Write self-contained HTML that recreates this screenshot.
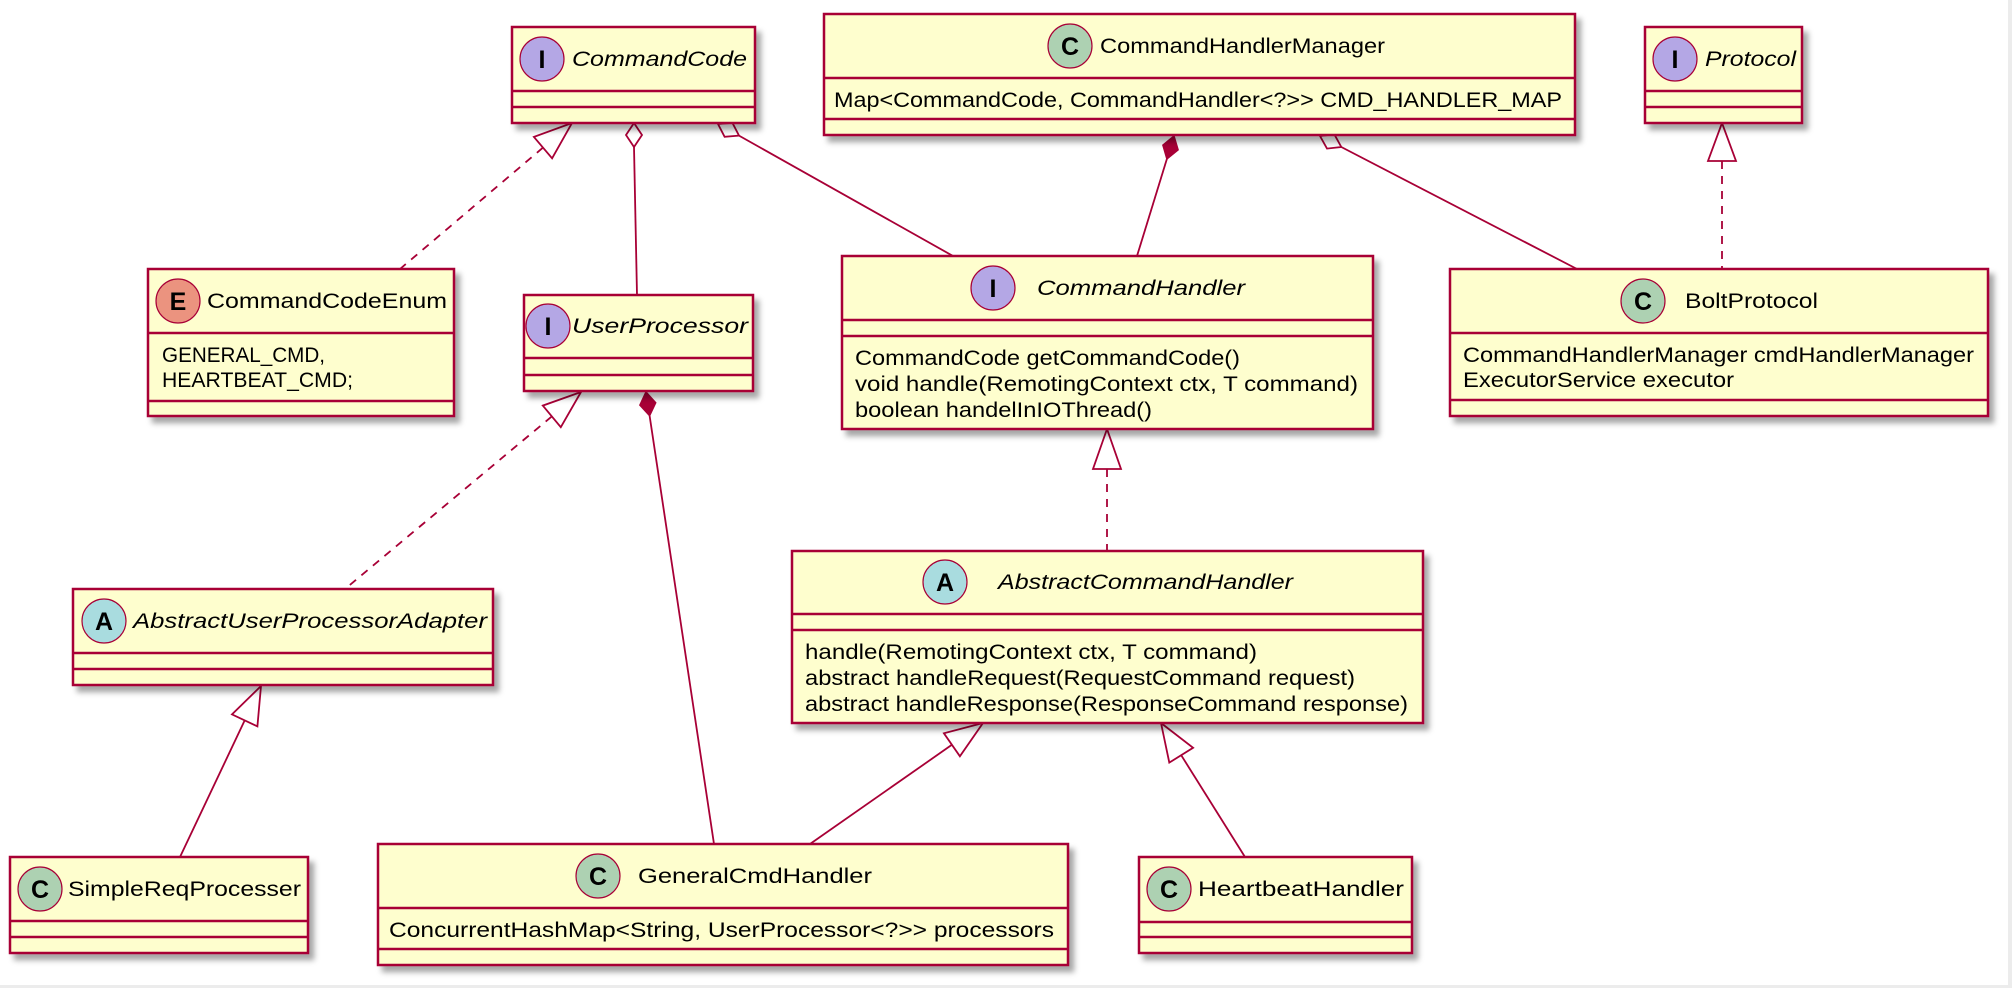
<!DOCTYPE html>
<html><head><meta charset="utf-8"><style>
html,body{margin:0;padding:0;background:#fff;}
svg{display:block;}
text{font-family:"Liberation Sans","DejaVu Sans",sans-serif;font-size:21px;fill:#000;}
.it{font-style:italic;}
.b{fill:#FEFECE;stroke:#A80036;stroke-width:2.5;}
.s{stroke:#A80036;stroke-width:2.5;}
.ln{stroke:#A80036;stroke-width:1.8;fill:none;}
.ds{stroke:#A80036;stroke-width:1.8;fill:none;stroke-dasharray:8,7;}
.tri{fill:#fff;stroke:#A80036;stroke-width:1.8;}
.cl{font-family:"Liberation Sans",sans-serif;font-weight:bold;font-size:25px;text-anchor:middle;}
</style></head><body>
<svg width="2012" height="988" viewBox="0 0 2012 988" xmlns="http://www.w3.org/2000/svg">
<defs><filter id="sh" x="-5%" y="-10%" width="115%" height="130%"><feDropShadow dx="5" dy="6" stdDeviation="3" flood-color="#000" flood-opacity="0.35"/></filter></defs>
<rect x="0" y="0" width="2012" height="988" fill="#fff"/>
<rect x="2008" y="0" width="4" height="988" fill="#ececec"/>
<rect x="0" y="985" width="2012" height="3" fill="#ececec"/>

<!-- connectors -->
<line class="ds" x1="543" y1="147.6" x2="400" y2="269"/>
<polygon class="tri" points="572,123 533.9,136.9 552.1,158.3"/>
<line class="ln" x1="634" y1="147" x2="637" y2="295"/>
<polygon class="tri" points="634,123 626,135 634,147 642,135"/>
<line class="ln" x1="739" y1="135.6" x2="953" y2="256"/>
<polygon class="tri" points="718,124 724.6,136.8 739,135.6 732.4,122.8"/>
<line class="ln" x1="1166.9" y1="158.9" x2="1137" y2="256"/>
<polygon points="1174,136 1162.9,145.1 1166.9,158.9 1178.1,149.9" fill="#A80036" stroke="#A80036" stroke-width="1.5"/>
<line class="ln" x1="1341.3" y1="147" x2="1577" y2="269"/>
<polygon class="tri" points="1320,136 1327,148.6 1341.3,147 1334.4,134.4"/>
<line class="ds" x1="1722" y1="161" x2="1722" y2="269"/>
<polygon class="tri" points="1722,123 1708,161 1736,161"/>
<line class="ds" x1="551.8" y1="416.4" x2="345" y2="589"/>
<polygon class="tri" points="581,392 542.8,405.6 560.8,427.2"/>
<line class="ln" x1="649.6" y1="415.7" x2="714" y2="844"/>
<polygon points="646,392 639.9,405.1 649.6,415.7 655.7,402.7" fill="#A80036" stroke="#A80036" stroke-width="1.5"/>
<line class="ds" x1="1107" y1="469" x2="1107" y2="551"/>
<polygon class="tri" points="1107,429 1093,469 1121,469"/>
<line class="ln" x1="244.7" y1="720.4" x2="180" y2="857"/>
<polygon class="tri" points="261,686 232,714.4 257.4,726.4"/>
<line class="ln" x1="951.9" y1="744.8" x2="810" y2="844"/>
<polygon class="tri" points="983,723 943.9,733.3 959.9,756.3"/>
<line class="ln" x1="1181.2" y1="755.2" x2="1245" y2="857"/>
<polygon class="tri" points="1161,723 1169.3,762.6 1193.1,747.8"/>

<!-- CommandCode -->
<rect class="b" x="512" y="27" width="243" height="96" filter="url(#sh)"/>
<line class="s" x1="512" y1="91" x2="755" y2="91"/><line class="s" x1="512" y1="107" x2="755" y2="107"/>
<circle cx="542" cy="59" r="22" fill="#B4A7E5" stroke="#A80036" stroke-width="1.2"/><text class="cl" x="542" y="68">I</text>
<text class="it" x="572" y="66" textLength="175" lengthAdjust="spacingAndGlyphs">CommandCode</text>

<!-- CommandHandlerManager -->
<rect class="b" x="824" y="14" width="751" height="121" filter="url(#sh)"/>
<line class="s" x1="824" y1="78" x2="1575" y2="78"/><line class="s" x1="824" y1="119" x2="1575" y2="119"/>
<circle cx="1070" cy="46" r="22" fill="#ADD1B2" stroke="#A80036" stroke-width="1.2"/><text class="cl" x="1070" y="55">C</text>
<text x="1100" y="53" textLength="285" lengthAdjust="spacingAndGlyphs">CommandHandlerManager</text>
<text x="834" y="107" textLength="728" lengthAdjust="spacingAndGlyphs">Map&lt;CommandCode, CommandHandler&lt;?&gt;&gt; CMD_HANDLER_MAP</text>

<!-- Protocol -->
<rect class="b" x="1645" y="27" width="157" height="96" filter="url(#sh)"/>
<line class="s" x1="1645" y1="91" x2="1802" y2="91"/><line class="s" x1="1645" y1="107" x2="1802" y2="107"/>
<circle cx="1675" cy="59" r="22" fill="#B4A7E5" stroke="#A80036" stroke-width="1.2"/><text class="cl" x="1675" y="68">I</text>
<text class="it" x="1705" y="66" textLength="91" lengthAdjust="spacingAndGlyphs">Protocol</text>

<!-- CommandCodeEnum -->
<rect class="b" x="148" y="269" width="306" height="147" filter="url(#sh)"/>
<line class="s" x1="148" y1="333" x2="454" y2="333"/><line class="s" x1="148" y1="401" x2="454" y2="401"/>
<circle cx="178" cy="301" r="22" fill="#EB937F" stroke="#A80036" stroke-width="1.2"/><text class="cl" x="178" y="310">E</text>
<text x="207" y="308" textLength="240" lengthAdjust="spacingAndGlyphs">CommandCodeEnum</text>
<text x="162" y="362" textLength="163" lengthAdjust="spacingAndGlyphs">GENERAL_CMD,</text>
<text x="162" y="387" textLength="191" lengthAdjust="spacingAndGlyphs">HEARTBEAT_CMD;</text>

<!-- UserProcessor -->
<rect class="b" x="524" y="295" width="229" height="96" filter="url(#sh)"/>
<line class="s" x1="524" y1="358" x2="753" y2="358"/><line class="s" x1="524" y1="375" x2="753" y2="375"/>
<circle cx="548" cy="326" r="22" fill="#B4A7E5" stroke="#A80036" stroke-width="1.2"/><text class="cl" x="548" y="335">I</text>
<text class="it" x="572" y="333" textLength="176" lengthAdjust="spacingAndGlyphs">UserProcessor</text>

<!-- CommandHandler -->
<rect class="b" x="842" y="256" width="531" height="173" filter="url(#sh)"/>
<line class="s" x1="842" y1="320" x2="1373" y2="320"/><line class="s" x1="842" y1="336" x2="1373" y2="336"/>
<circle cx="993" cy="288" r="22" fill="#B4A7E5" stroke="#A80036" stroke-width="1.2"/><text class="cl" x="993" y="297">I</text>
<text class="it" x="1037" y="295" textLength="208" lengthAdjust="spacingAndGlyphs">CommandHandler</text>
<text x="855" y="365" textLength="385" lengthAdjust="spacingAndGlyphs">CommandCode getCommandCode()</text>
<text x="855" y="391" textLength="503" lengthAdjust="spacingAndGlyphs">void handle(RemotingContext ctx, T command)</text>
<text x="855" y="417" textLength="297" lengthAdjust="spacingAndGlyphs">boolean handelInIOThread()</text>

<!-- BoltProtocol -->
<rect class="b" x="1450" y="269" width="538" height="147" filter="url(#sh)"/>
<line class="s" x1="1450" y1="333" x2="1988" y2="333"/><line class="s" x1="1450" y1="400" x2="1988" y2="400"/>
<circle cx="1643" cy="301" r="22" fill="#ADD1B2" stroke="#A80036" stroke-width="1.2"/><text class="cl" x="1643" y="310">C</text>
<text x="1685" y="308" textLength="133" lengthAdjust="spacingAndGlyphs">BoltProtocol</text>
<text x="1463" y="362" textLength="511" lengthAdjust="spacingAndGlyphs">CommandHandlerManager cmdHandlerManager</text>
<text x="1463" y="387" textLength="271" lengthAdjust="spacingAndGlyphs">ExecutorService executor</text>

<!-- AbstractUserProcessorAdapter -->
<rect class="b" x="73" y="589" width="420" height="96" filter="url(#sh)"/>
<line class="s" x1="73" y1="653" x2="493" y2="653"/><line class="s" x1="73" y1="669" x2="493" y2="669"/>
<circle cx="104" cy="621" r="22" fill="#A9DCDF" stroke="#A80036" stroke-width="1.2"/><text class="cl" x="104" y="630">A</text>
<text class="it" x="133" y="628" textLength="354" lengthAdjust="spacingAndGlyphs">AbstractUserProcessorAdapter</text>

<!-- AbstractCommandHandler -->
<rect class="b" x="792" y="551" width="631" height="172" filter="url(#sh)"/>
<line class="s" x1="792" y1="614" x2="1423" y2="614"/><line class="s" x1="792" y1="630" x2="1423" y2="630"/>
<circle cx="945" cy="582" r="22" fill="#A9DCDF" stroke="#A80036" stroke-width="1.2"/><text class="cl" x="945" y="591">A</text>
<text class="it" x="998" y="589" textLength="295" lengthAdjust="spacingAndGlyphs">AbstractCommandHandler</text>
<text x="805" y="659" textLength="452" lengthAdjust="spacingAndGlyphs">handle(RemotingContext ctx, T command)</text>
<text x="805" y="685" textLength="550" lengthAdjust="spacingAndGlyphs">abstract handleRequest(RequestCommand request)</text>
<text x="805" y="711" textLength="603" lengthAdjust="spacingAndGlyphs">abstract handleResponse(ResponseCommand response)</text>

<!-- SimpleReqProcesser -->
<rect class="b" x="10" y="857" width="298" height="96" filter="url(#sh)"/>
<line class="s" x1="10" y1="921" x2="308" y2="921"/><line class="s" x1="10" y1="937" x2="308" y2="937"/>
<circle cx="40" cy="889" r="22" fill="#ADD1B2" stroke="#A80036" stroke-width="1.2"/><text class="cl" x="40" y="898">C</text>
<text x="68" y="896" textLength="233" lengthAdjust="spacingAndGlyphs">SimpleReqProcesser</text>

<!-- GeneralCmdHandler -->
<rect class="b" x="378" y="844" width="690" height="121" filter="url(#sh)"/>
<line class="s" x1="378" y1="908" x2="1068" y2="908"/><line class="s" x1="378" y1="949" x2="1068" y2="949"/>
<circle cx="598" cy="876" r="22" fill="#ADD1B2" stroke="#A80036" stroke-width="1.2"/><text class="cl" x="598" y="885">C</text>
<text x="638" y="883" textLength="234" lengthAdjust="spacingAndGlyphs">GeneralCmdHandler</text>
<text x="389" y="937" textLength="665" lengthAdjust="spacingAndGlyphs">ConcurrentHashMap&lt;String, UserProcessor&lt;?&gt;&gt; processors</text>

<!-- HeartbeatHandler -->
<rect class="b" x="1139" y="857" width="273" height="96" filter="url(#sh)"/>
<line class="s" x1="1139" y1="922" x2="1412" y2="922"/><line class="s" x1="1139" y1="937" x2="1412" y2="937"/>
<circle cx="1169" cy="889" r="22" fill="#ADD1B2" stroke="#A80036" stroke-width="1.2"/><text class="cl" x="1169" y="898">C</text>
<text x="1198" y="896" textLength="206" lengthAdjust="spacingAndGlyphs">HeartbeatHandler</text>
</svg>
</body></html>
